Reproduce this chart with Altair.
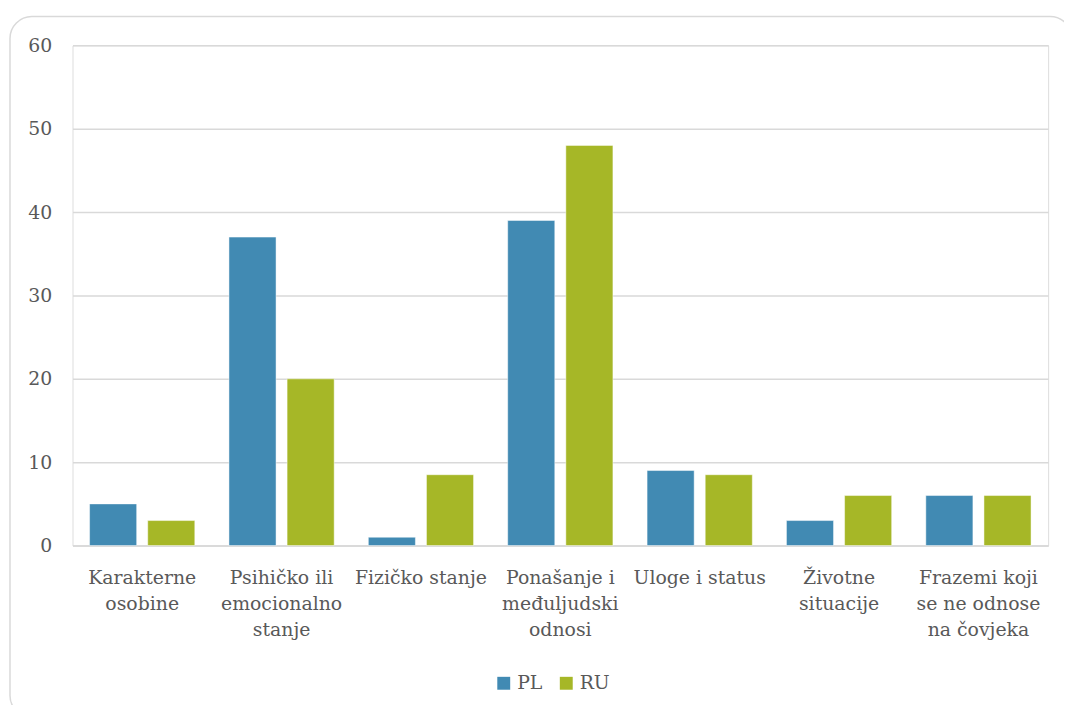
import json
import altair as alt
import pandas as pd

categories = [
    "Karakterne osobine",
    "Psihičko ili emocionalno stanje",
    "Fizičko stanje",
    "Ponašanje i međuljudski odnosi",
    "Uloge i status",
    "Životne situacije",
    "Frazemi koji se ne odnose na čovjeka",
]
label_lines = [
    ["Karakterne", "osobine"],
    ["Psihičko ili", "emocionalno", "stanje"],
    ["Fizičko stanje"],
    ["Ponašanje i", "međuljudski", "odnosi"],
    ["Uloge i status"],
    ["Životne", "situacije"],
    ["Frazemi koji", "se ne odnose", "na čovjeka"],
]
pl_values = [5, 37, 1, 39, 9, 3, 6]
ru_values = [3, 20, 8.5, 48, 8.5, 6, 6]
series = ["PL", "RU"]
colors = ["#418AB3", "#A6B727"]
y_ticks = [0, 10, 20, 30, 40, 50, 60]

rows = []
for c, p, r in zip(categories, pl_values, ru_values):
    rows.append({"kategorija": c, "serija": "PL", "vrijednost": p})
    rows.append({"kategorija": c, "serija": "RU", "vrijednost": r})
df = pd.DataFrame(rows)

label_map = json.dumps(dict(zip(categories, label_lines)), ensure_ascii=False)
FONT = "DejaVu Serif"
FS = 19
GRAY = "#595959"
LINE = "#d9d9d9"

bars = alt.Chart(df).mark_bar(stroke="white", strokeWidth=0.8, strokeOpacity=0.6).encode(
    x=alt.X(
        "kategorija:N",
        sort=categories,
        scale=alt.Scale(paddingInner=0.245, paddingOuter=0.1225),
        axis=alt.Axis(
            title=None,
            labelAngle=0,
            labelExpr=f"{label_map}[datum.label]",
            labelFont=FONT,
            labelFontSize=FS,
            labelColor=GRAY,
            labelLineHeight=26.5,
            labelPadding=23,
            labelBaseline="top",
            ticks=False,
            domain=True,
            domainColor=LINE,
            domainWidth=1.5,
            labelLimit=300,
        ),
    ),
    xOffset=alt.XOffset("serija:N", sort=series, scale=alt.Scale(paddingInner=0.19, paddingOuter=0)),
    y=alt.Y(
        "vrijednost:Q",
        scale=alt.Scale(domain=[0, 60], nice=False),
        axis=alt.Axis(
            title=None,
            values=y_ticks,
            labelFont=FONT,
            labelFontSize=FS,
            labelColor=GRAY,
            labelPadding=21,
            ticks=False,
            domain=False,
            grid=True,
            gridColor=LINE,
            gridWidth=1.5,
        ),
    ),
    color=alt.Color(
        "serija:N",
        sort=series,
        scale=alt.Scale(domain=series, range=colors),
        legend=alt.Legend(
            title=None,
            orient="none",
            legendX=425,
            legendY=633,
            direction="horizontal",
            symbolType="square",
            symbolSize=169,
            symbolStrokeWidth=0,
            labelFont=FONT,
            labelFontSize=FS,
            labelColor=GRAY,
            labelOffset=4,
            columnPadding=14,
        ),
    ),
)

border = alt.Chart(pd.DataFrame({"a": [0]})).mark_rect(
    fill=None, fillOpacity=0, stroke=LINE, strokeWidth=1.5, cornerRadius=22
).encode(
    x=alt.value(-63),
    x2=alt.value(1007),
    y=alt.value(-29),
    y2=alt.value(677),
)

chart = alt.layer(border, bars).properties(
    width=983,
    height=504,
    autosize=alt.AutoSizeParams(type="none"),
    padding={"left": 65, "top": 35, "right": 16, "bottom": 158},
).configure_view(stroke=None).configure(font=FONT)

chart.save("out.html", embed_options={"renderer": "svg", "actions": False})
